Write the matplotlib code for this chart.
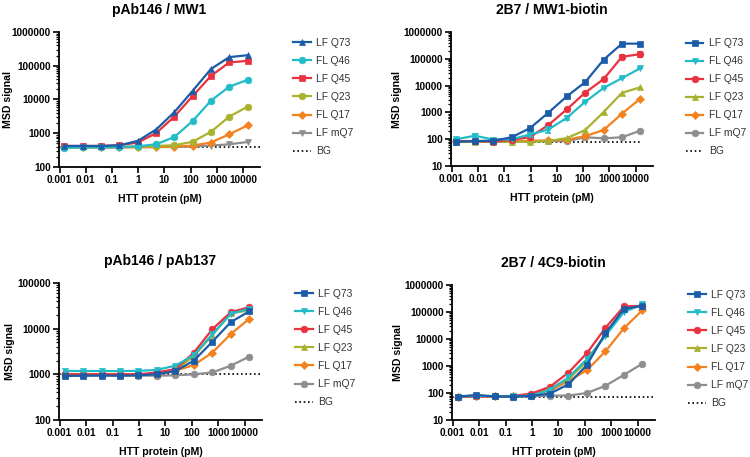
import matplotlib
matplotlib.use("Agg")
import matplotlib.pyplot as plt
from matplotlib.ticker import FixedLocator, LogLocator, FuncFormatter, NullFormatter
import numpy as np

plt.rcParams['font.family'] = ['Liberation Sans', 'DejaVu Sans']

# ---------------- data ----------------
conc = [0.001536, 0.00768, 0.0384, 0.192, 0.96, 4.8, 24, 120, 600, 3000, 15000]  # pM, 5-fold dilutions

series_names = ["LF Q73", "FL Q46", "LF Q45", "LF Q23", "FL Q17", "LF mQ7"]
colors = ["#1b5ca8", "#22bcc6", "#e8323f", "#a9b12e", "#f4811f", "#8e8e8e"]

# Panel 1: pAb146 / MW1
p1_title = "pAb146 / MW1"
p1_LF_Q73 = [420, 420, 420, 440, 590, 1280, 4200, 18000, 80000, 180000, 205000]
p1_FL_Q46 = [370, 380, 380, 390, 410, 470, 770, 2300, 9200, 24000, 38000]
p1_LF_Q45 = [420, 420, 420, 440, 530, 1000, 3100, 12600, 50000, 125000, 140000]
p1_LF_Q23 = [390, 390, 390, 390, 400, 420, 440, 560, 1100, 3100, 6100]
p1_FL_Q17 = [380, 380, 380, 380, 385, 390, 400, 430, 530, 930, 1700]
p1_LF_mQ7 = [380, 380, 380, 385, 390, 390, 395, 405, 430, 470, 550]
p1_BG = 400
p1_markers = ["^", "o", "s", "o", "D", "v"]
p1_ylim = (100, 1000000)

# Panel 2: 2B7 / MW1-biotin
p2_title = "2B7 / MW1-biotin"
p2_LF_Q73 = [80, 85, 88, 118, 260, 980, 4000, 13500, 93000, 370000, 370000]
p2_FL_Q46 = [100, 135, 97, 100, 150, 230, 630, 2500, 8200, 19000, 45000]
p2_LF_Q45 = [85, 85, 80, 95, 120, 340, 1300, 5500, 17500, 120000, 150000]
p2_LF_Q23 = [80, 80, 80, 80, 80, 85, 110, 220, 1030, 5400, 8700]
p2_FL_Q17 = [85, 85, 85, 85, 88, 90, 95, 130, 220, 900, 3300]
p2_LF_mQ7 = [85, 85, 85, 85, 85, 85, 85, 118, 108, 118, 210]
p2_BG = 82
p2_markers = ["s", "v", "o", "^", "D", "o"]
p2_ylim = (10, 1000000)
# a few visible error bars (low, high) in panel 2
p2_FL_Q46_err_lo = [0, 15, 0, 0, 25, 60, 120, 0, 0, 0, 0]
p2_FL_Q46_err_hi = [0, 15, 0, 0, 25, 60, 120, 0, 0, 0, 0]
p2_LF_Q45_err_lo = [0, 0, 0, 0, 0, 0, 0, 0, 0, 25000, 30000]
p2_LF_Q45_err_hi = [0, 0, 0, 0, 0, 0, 0, 0, 0, 25000, 30000]
p2_LF_mQ7_err_lo = [0, 0, 0, 0, 0, 0, 0, 25, 0, 0, 0]
p2_LF_mQ7_err_hi = [0, 0, 0, 0, 0, 0, 0, 30, 0, 0, 0]

# Panel 3: pAb146 / pAb137
p3_title = "pAb146 / pAb137"
p3_LF_Q73 = [920, 930, 940, 930, 950, 1000, 1180, 2000, 5200, 14000, 24000]
p3_FL_Q46 = [1180, 1180, 1180, 1180, 1190, 1250, 1550, 2650, 7600, 21000, 27500]
p3_LF_Q45 = [1000, 1000, 1000, 1000, 1000, 1100, 1300, 3000, 9800, 23000, 29500]
p3_LF_Q23 = [1000, 1000, 1000, 980, 950, 1050, 1250, 2500, 7300, 22000, 25000]
p3_FL_Q17 = [1000, 1000, 1000, 1000, 1000, 1020, 1200, 1600, 3000, 7700, 16500]
p3_LF_mQ7 = [950, 950, 950, 950, 940, 930, 950, 1000, 1100, 1550, 2450]
p3_BG = 1000
p3_markers = ["s", "v", "o", "^", "D", "o"]
p3_ylim = (100, 100000)

# Panel 4: 2B7 / 4C9-biotin
p4_title = "2B7 / 4C9-biotin"
p4_LF_Q73 = [73, 84, 75, 73, 78, 95, 210, 1100, 16500, 130000, 170000]
p4_FL_Q46 = [73, 80, 76, 75, 80, 130, 380, 1800, 13000, 100000, 190000]
p4_LF_Q45 = [72, 75, 75, 78, 95, 170, 570, 3000, 26000, 160000, 170000]
p4_LF_Q23 = [73, 78, 75, 75, 85, 150, 320, 1500, 15000, 130000, 165000]
p4_FL_Q17 = [73, 78, 75, 75, 85, 120, 280, 700, 3500, 25000, 117000]
p4_LF_mQ7 = [73, 76, 75, 74, 75, 80, 80, 100, 185, 470, 1220]
p4_BG = 72
p4_markers = ["s", "v", "o", "^", "D", "o"]
p4_ylim = (10, 1000000)

x_ticks = [0.001, 0.01, 0.1, 1, 10, 100, 1000, 10000]
x_lim = (0.00095, 45000)
x_label = "HTT protein (pM)"
y_label = "MSD signal"

panels = [
    dict(title=p1_title, ys=[p1_LF_Q73, p1_FL_Q46, p1_LF_Q45, p1_LF_Q23, p1_FL_Q17, p1_LF_mQ7],
         bg=p1_BG, markers=p1_markers, ylim=p1_ylim, errs={},
         rect=[0.0787, 0.6346, 0.268, 0.2954], bg_full=True, ylab_px=46, leg_dy=4),
    dict(title=p2_title, ys=[p2_LF_Q73, p2_FL_Q46, p2_LF_Q45, p2_LF_Q23, p2_FL_Q17, p2_LF_mQ7],
         bg=p2_BG, markers=p2_markers, ylim=p2_ylim,
         errs={1: (p2_FL_Q46_err_lo, p2_FL_Q46_err_hi), 2: (p2_LF_Q45_err_lo, p2_LF_Q45_err_hi),
               5: (p2_LF_mQ7_err_lo, p2_LF_mQ7_err_hi)},
         rect=[0.6013, 0.6368, 0.2693, 0.293], bg_full=False, ylab_px=49, leg_dy=4),
    dict(title=p3_title, ys=[p3_LF_Q73, p3_FL_Q46, p3_LF_Q45, p3_LF_Q23, p3_FL_Q17, p3_LF_mQ7],
         bg=p3_BG, markers=p3_markers, ylim=p3_ylim, errs={},
         rect=[0.0787, 0.081, 0.2707, 0.2998], bg_full=True, ylab_px=44, leg_dy=4),
    dict(title=p4_title, ys=[p4_LF_Q73, p4_FL_Q46, p4_LF_Q45, p4_LF_Q23, p4_FL_Q17, p4_LF_mQ7],
         bg=p4_BG, markers=p4_markers, ylim=p4_ylim, errs={},
         rect=[0.6027, 0.081, 0.2707, 0.2954], bg_full=True, ylab_px=49, leg_dy=3),
]


def fmt(v, pos):
    if v >= 1:
        return f"{v:.0f}"
    return f"{v:g}"


W, H = 750, 457
fig = plt.figure(figsize=(7.5, 4.57), dpi=100)

for p in panels:
    ax = fig.add_axes(p["rect"])
    ax_w_px = p["rect"][2] * W
    ax_h_px = p["rect"][3] * H
    ax.set_xscale("log")
    ax.set_yscale("log")
    handles = []
    n = len(series_names)
    for i in range(n):
        m = p["markers"][i]
        ms = 3.8 if m == "D" else 4.8
        z = 10 + (n - i)
        if i in p["errs"]:
            lo, hi = p["errs"][i]
            ax.errorbar(conc, p["ys"][i], yerr=[lo, hi], fmt="none", ecolor=colors[i],
                        elinewidth=1.2, capsize=2.5, capthick=1.2, zorder=z)
        ln, = ax.plot(conc, p["ys"][i], color=colors[i], marker=m, markersize=ms,
                      linewidth=1.6, markeredgewidth=0.5, markeredgecolor=colors[i],
                      label=series_names[i], zorder=z)
        handles.append(ln)
    if p["bg_full"]:
        bx = list(x_lim)
    else:
        bx = [conc[0], conc[-1]]
    bgl, = ax.plot(bx, [p["bg"], p["bg"]], color="black", linestyle=(0, (1, 1.6)),
                   linewidth=1.2, label="BG", zorder=2)
    handles.append(bgl)

    ax.set_xlim(*x_lim)
    ax.set_ylim(*p["ylim"])
    ax.xaxis.set_major_locator(FixedLocator(x_ticks))
    ax.xaxis.set_major_formatter(FuncFormatter(fmt))
    ax.xaxis.set_minor_locator(LogLocator(base=10, subs=np.arange(2, 10)))
    ax.xaxis.set_minor_formatter(NullFormatter())
    ax.yaxis.set_major_locator(LogLocator(base=10, numticks=20))
    ax.yaxis.set_major_formatter(FuncFormatter(fmt))
    ax.yaxis.set_minor_locator(LogLocator(base=10, subs=np.arange(2, 10), numticks=20))
    ax.yaxis.set_minor_formatter(NullFormatter())

    for s in ["top", "right"]:
        ax.spines[s].set_visible(False)
    for s in ["left", "bottom"]:
        ax.spines[s].set_linewidth(1.3)
    ax.tick_params(which="major", direction="out", length=4, width=1.2, labelsize=7.2,
                   pad=2)
    ax.tick_params(which="minor", direction="out", length=2, width=0.9)
    for lab in ax.get_xticklabels() + ax.get_yticklabels():
        lab.set_fontweight("bold")

    ax.set_xlabel(x_label, fontsize=7.6, fontweight="bold", labelpad=6)
    ax.set_ylabel(y_label, fontsize=7.6, fontweight="bold")
    ax.yaxis.set_label_coords(-p["ylab_px"] / ax_w_px, 0.5)
    ax.set_title(p["title"], fontsize=10, fontweight="bold", pad=13)

    leg = ax.legend(handles=handles, loc="upper left",
                    bbox_to_anchor=(1 + 31 / ax_w_px, 1.0 - p["leg_dy"] / ax_h_px),
                    frameon=False, fontsize=7.4, handlelength=1.7, handletextpad=0.55,
                    labelspacing=0.78, borderaxespad=0.0, borderpad=0.2)
    for t in leg.get_texts():
        t.set_color("#333333")

fig.savefig("out.png", dpi=100)
